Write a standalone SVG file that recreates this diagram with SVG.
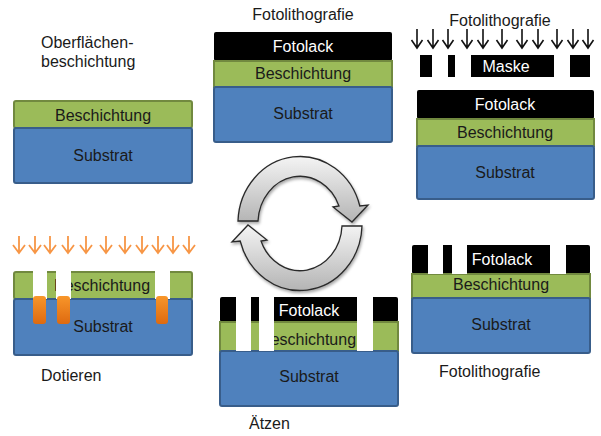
<svg xmlns="http://www.w3.org/2000/svg" width="601" height="436" viewBox="0 0 601 436">
<style>
.sub{fill:#4F81BD;stroke:#385D8A;stroke-width:2}
.coat{fill:#9BBB59;stroke:#71893F;stroke-width:2}
.lack{fill:#000}
.gap{fill:#fff}
.t{font-family:"Liberation Sans",Arial,sans-serif;font-size:16px;fill:#1a1a1a}
.c{text-anchor:middle}
.w{fill:#fff}
.ab{fill:none;stroke:#111;stroke-width:1.6}
.ao{fill:none;stroke:#F79646;stroke-width:1.8}
.cyc{fill:url(#gg);stroke:#2a2a2a;stroke-width:1.3;filter:url(#sh)}
.dop{fill:url(#og)}
</style>
<defs>
<path id="arrB" d="M0,0 V19 M-5.5,11 L0,19 L5.5,11"/>
<path id="arrO" d="M0,0 V17 M-6,9 L0,17 L6,9"/>
<linearGradient id="gg" x1="0" y1="0" x2="0" y2="1">
<stop offset="0" stop-color="#f4f4f4"/>
<stop offset="1" stop-color="#b4b4b4"/>
</linearGradient>
<linearGradient id="og" x1="0" y1="0" x2="0" y2="1">
<stop offset="0" stop-color="#F8962A"/>
<stop offset="1" stop-color="#DE6A10"/>
</linearGradient>
<filter id="sh" x="-20%" y="-20%" width="140%" height="140%">
<feDropShadow dx="1" dy="2" stdDeviation="1.5" flood-color="#000" flood-opacity="0.35"/>
</filter>
</defs>

<g id="oberflaeche">
<text class="t" x="41" y="48">Oberflächen-</text>
<text class="t" x="41" y="67">beschichtung</text>
<rect class="coat" x="14" y="101" width="178" height="27" rx="2"/>
<rect class="sub" x="14" y="128" width="178" height="55" rx="2"/>
<text class="t c" x="103" y="120.5">Beschichtung</text>
<text class="t c" x="103" y="161">Substrat</text>
</g>

<g id="foto1">
<text class="t c" x="303" y="20">Fotolithografie</text>
<rect class="lack" x="214" y="32" width="178" height="29" rx="2"/>
<rect class="coat" x="214" y="61" width="178" height="26"/>
<rect class="sub" x="214" y="87" width="178" height="55" rx="2"/>
<text class="t c w" x="303" y="52">Fotolack</text>
<text class="t c" x="303" y="79">Beschichtung</text>
<text class="t c" x="303" y="119">Substrat</text>
</g>

<g id="foto2">
<text class="t c" x="500" y="26">Fotolithografie</text>
<g class="ab">
<use href="#arrB" x="417" y="29"/>
<use href="#arrB" x="433" y="29"/>
<use href="#arrB" x="448" y="29"/>
<use href="#arrB" x="467" y="29"/>
<use href="#arrB" x="483" y="29"/>
<use href="#arrB" x="502" y="29"/>
<use href="#arrB" x="522" y="29"/>
<use href="#arrB" x="538" y="29"/>
<use href="#arrB" x="557" y="29"/>
<use href="#arrB" x="573" y="29"/>
<use href="#arrB" x="588" y="29"/>
</g>
<rect class="lack" x="420" y="55" width="12" height="22"/>
<rect class="lack" x="448" y="55" width="7" height="22"/>
<rect class="lack" x="471" y="55" width="83" height="22"/>
<rect class="lack" x="570" y="55" width="20" height="22"/>
<text class="t c w" x="506" y="72">Maske</text>
<rect class="lack" x="417" y="90" width="177" height="29" rx="2"/>
<rect class="coat" x="417" y="119" width="177" height="27"/>
<rect class="sub" x="417" y="146" width="177" height="53" rx="2"/>
<text class="t c w" x="505" y="110">Fotolack</text>
<text class="t c" x="505" y="138">Beschichtung</text>
<text class="t c" x="505" y="178">Substrat</text>
</g>

<g id="foto3">
<rect class="lack" x="412" y="245" width="178" height="29" rx="2"/>
<rect class="coat" x="412" y="274" width="178" height="24"/>
<rect class="sub" x="412" y="298" width="178" height="55" rx="2"/>
<rect class="gap" x="428" y="244" width="15" height="30"/>
<rect class="gap" x="452" y="244" width="15" height="30"/>
<rect class="gap" x="550" y="244" width="16" height="30"/>
<text class="t c w" x="502" y="265">Fotolack</text>
<text class="t c" x="501" y="290">Beschichtung</text>
<text class="t c" x="501" y="330">Substrat</text>
<text class="t" x="439" y="377">Fotolithografie</text>
</g>

<g id="aetzen">
<rect class="lack" x="220" y="297" width="178" height="25" rx="2"/>
<rect class="coat" x="220" y="322" width="178" height="29"/>
<rect class="sub" x="220" y="351" width="178" height="55" rx="2"/>
<text class="t c w" x="309" y="316">Fotolack</text>
<text class="t c" x="308" y="345">Beschichtung</text>
<text class="t c" x="309" y="382">Substrat</text>
<rect class="gap" x="236" y="296" width="15" height="55"/>
<rect class="gap" x="259" y="296" width="15" height="55"/>
<rect class="gap" x="357" y="296" width="16" height="55"/>
<text class="t" x="249" y="429">Ätzen</text>
</g>

<g id="dotieren">
<g class="ao">
<use href="#arrO" x="19" y="236"/>
<use href="#arrO" x="35" y="236"/>
<use href="#arrO" x="50" y="236"/>
<use href="#arrO" x="68" y="236"/>
<use href="#arrO" x="86" y="236"/>
<use href="#arrO" x="106" y="236"/>
<use href="#arrO" x="125" y="236"/>
<use href="#arrO" x="142" y="236"/>
<use href="#arrO" x="158" y="236"/>
<use href="#arrO" x="173" y="236"/>
<use href="#arrO" x="189" y="236"/>
</g>
<rect class="coat" x="14" y="272" width="178" height="27" rx="2"/>
<rect class="sub" x="14" y="299" width="178" height="56" rx="2"/>
<text class="t c" x="102" y="291">Beschichtung</text>
<text class="t c" x="103" y="332">Substrat</text>
<rect class="gap" x="33" y="271" width="14" height="28"/>
<rect class="gap" x="56" y="271" width="15" height="28"/>
<rect class="gap" x="155" y="271" width="15" height="28"/>
<rect class="dop" x="33" y="296" width="13" height="28" rx="3"/>
<rect class="dop" x="57" y="296" width="13" height="28" rx="3"/>
<rect class="dop" x="156" y="296" width="12" height="28" rx="3"/>
<text class="t" x="41" y="381">Dotieren</text>
</g>

<g id="connectors">
<path class="cyc" d="M238,221 A62,67 0 0 1 359.8,206 L368,205 L352,222 L333,207 L339,206 A42,47 0 0 0 258,221 Z"/>
<path class="cyc" d="M362,226 A62,67 0 0 1 240.2,241 L232,242 L248,225 L267,240 L261,241 A42,47 0 0 0 342,226 Z"/>
</g>
</svg>
